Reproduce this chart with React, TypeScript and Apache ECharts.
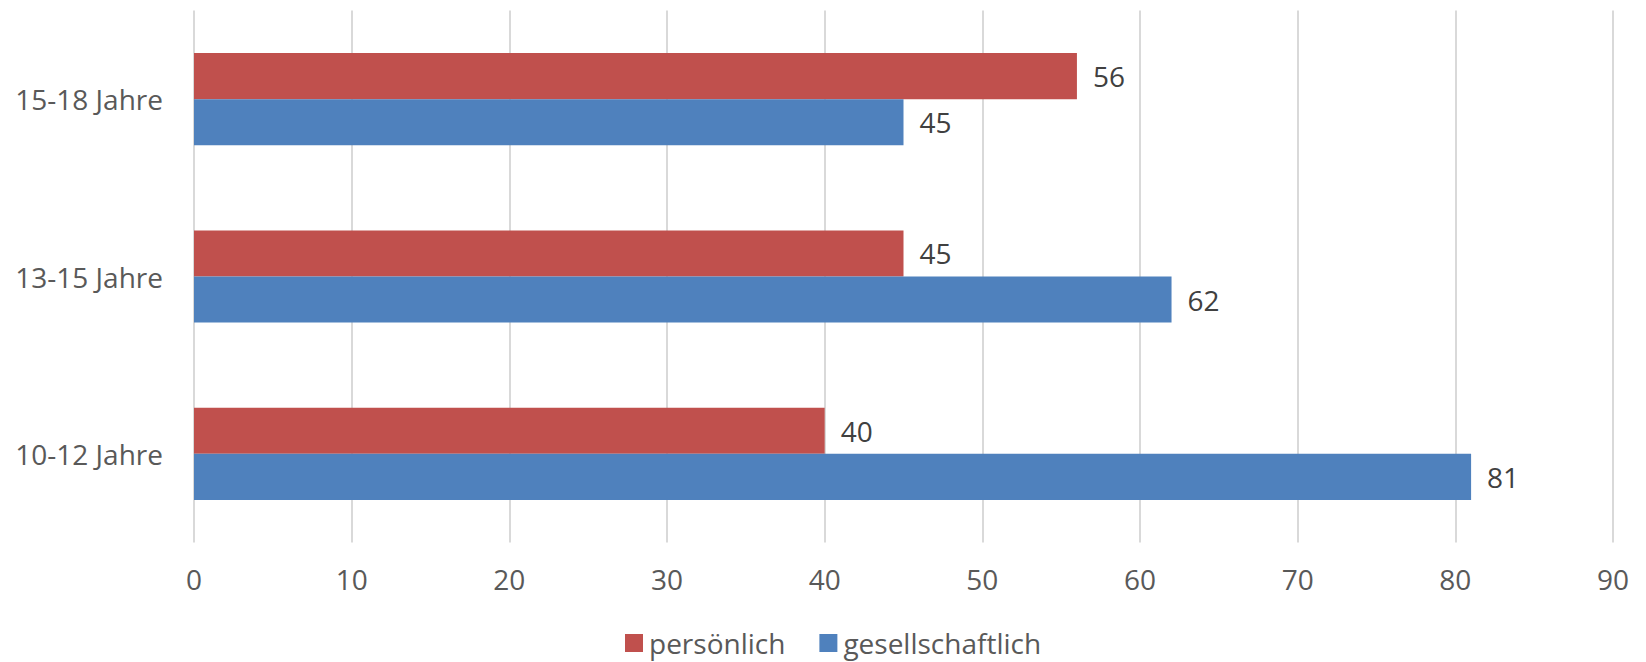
import React, { useEffect, useRef } from "react";
import * as echarts from "echarts";

const categories = ["10-12 Jahre", "13-15 Jahre", "15-18 Jahre"];
const persoenlich = [40, 45, 56];
const gesellschaftlich = [81, 62, 45];
const seriesNames = ["persönlich", "gesellschaftlich"];
const xTicks = { min: 0, max: 90, interval: 10 };

export default function App() {
  const ref = useRef<HTMLDivElement>(null);
  useEffect(() => {
    if (!ref.current) return;
    const chart = echarts.init(ref.current, null, { renderer: "svg" });
    const font = "'Open Sans', sans-serif";
    const label = {
      show: true,
      position: "right",
      distance: 16,
      color: "#404040",
      fontSize: 28,
      fontFamily: font,
    };
    chart.setOption({
      animation: false,
      grid: { left: 194, right: 33, top: 10.5, bottom: 119.5 },
      legend: {
        data: seriesNames,
        left: 620,
        top: 624,
        itemWidth: 18,
        itemHeight: 18,
        itemGap: 34,
        icon: "rect",
        textStyle: { color: "#595959", fontSize: 28, fontFamily: font, padding: [0, 0, 0, 1] },
      },
      xAxis: {
        type: "value",
        min: xTicks.min,
        max: xTicks.max,
        interval: xTicks.interval,
        axisLine: { show: false },
        axisTick: { show: false },
        splitLine: { show: true, lineStyle: { color: "#d9d9d9", width: 2 } },
        axisLabel: { color: "#595959", fontSize: 28, fontFamily: font, margin: 22 },
      },
      yAxis: {
        type: "category",
        data: categories,
        axisLine: { show: false },
        axisTick: { show: false },
        axisLabel: { color: "#595959", fontSize: 28, fontFamily: font, margin: 31 },
      },
      series: [
        {
          name: seriesNames[0],
          type: "bar",
          data: persoenlich,
          barGap: "0%",
          barCategoryGap: "48%",
          itemStyle: { color: "#C0504D" },
          label,
        },
        {
          name: seriesNames[1],
          type: "bar",
          data: gesellschaftlich,
          barGap: "0%",
          barCategoryGap: "48%",
          itemStyle: { color: "#4F81BD" },
          label,
        },
      ],
    });
    return () => chart.dispose();
  }, []);
  return (
    <div
      ref={ref}
      style={{ position: "fixed", left: 0, top: 0, width: 1646, height: 662, background: "#fff" }}
    />
  );
}
